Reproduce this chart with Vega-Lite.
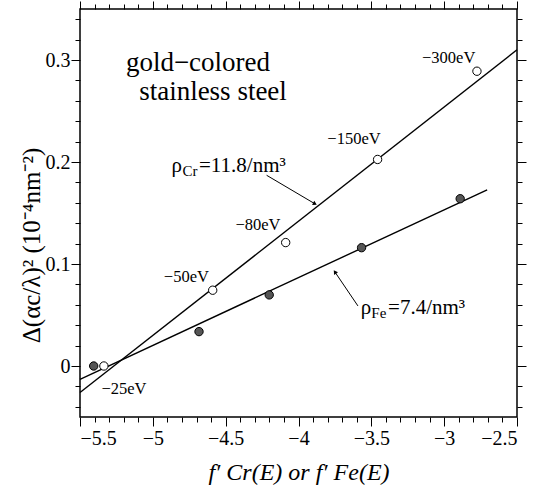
{
  "$schema": "https://vega.github.io/schema/vega-lite/v6.json",
  "width": 437,
  "height": 408,
  "autosize": "none",
  "padding": {"left": 80, "top": 9, "right": 19, "bottom": 73},
  "background": "white",
  "config": {
    "view": {"stroke": "black", "strokeWidth": 1.5},
    "axis": {
      "grid": false, "domain": false, "ticks": true,
      "tickColor": "black", "tickWidth": 1, "tickOpacity": 1,
      "labelFont": "Liberation Serif", "labelFontSize": 20, "labelColor": "black",
      "titleFont": "Liberation Serif", "titleFontSize": 24, "titleColor": "black", "titleFontWeight": "normal"
    },
    "text": {"font": "Liberation Serif", "color": "black"}
  },
  "datasets": {
    "lines": [
      {"series": "Cr", "x": -5.5, "y": -0.026},
      {"series": "Cr", "x": -2.5, "y": 0.310},
      {"series": "Fe", "x": -5.5, "y": -0.013},
      {"series": "Fe", "x": -2.705, "y": 0.1727}
    ],
    "points": [
      {"series": "Cr", "x": -5.336, "y": 0.0},
      {"series": "Cr", "x": -4.589, "y": 0.0743},
      {"series": "Cr", "x": -4.088, "y": 0.121},
      {"series": "Cr", "x": -3.457, "y": 0.2025},
      {"series": "Cr", "x": -2.775, "y": 0.289},
      {"series": "Fe", "x": -5.406, "y": 0.0},
      {"series": "Fe", "x": -4.683, "y": 0.0337},
      {"series": "Fe", "x": -4.201, "y": 0.0697},
      {"series": "Fe", "x": -3.567, "y": 0.116},
      {"series": "Fe", "x": -2.89, "y": 0.164}
    ],
    "energy": [
      {"label": "−25eV", "x": -5.198, "y": -0.0229},
      {"label": "−50eV", "x": -4.770, "y": 0.0875},
      {"label": "−80eV", "x": -4.278, "y": 0.138},
      {"label": "−150eV", "x": -3.619, "y": 0.2225},
      {"label": "−300eV", "x": -2.969, "y": 0.302}
    ],
    "notes": [
      {"kind": "head", "text": "gold−colored", "x": -4.690, "y": 0.289},
      {"kind": "head", "text": "stainless  steel", "x": -4.587, "y": 0.2607},
      {"kind": "main", "text": "ρ", "x": -4.871, "y": 0.1898},
      {"kind": "sub", "text": "Cr", "x": -4.797, "y": 0.186},
      {"kind": "main", "text": "=11.8/nm³", "x": -4.683, "y": 0.1898},
      {"kind": "main", "text": "ρ", "x": -3.573, "y": 0.0507},
      {"kind": "sub", "text": "Fe", "x": -3.500, "y": 0.0475},
      {"kind": "main", "text": "=7.4/nm³", "x": -3.385, "y": 0.0507}
    ],
    "arrows": [
      {"name": "Cr", "x": -4.219, "y": 0.187, "x2": -3.887, "y2": 0.159},
      {"name": "Fe", "x": -3.592, "y": 0.0589, "x2": -3.750, "y2": 0.0922}
    ]
  },
  "resolve": {"axis": {"x": "independent", "y": "independent"}},
  "layer": [
    {
      "data": {"name": "lines"},
      "mark": {"type": "line", "color": "black", "strokeWidth": 1.4},
      "encoding": {
        "x": {"field": "x", "type": "quantitative", "scale": {"domain": [-5.5, -2.5], "nice": false, "zero": false},
          "axis": {"orient": "bottom", "values": [-5.5, -5, -4.5, -4, -3.5, -3, -2.5], "format": "~g", "ticks": true, "tickSize": 9, "domain": false, "labelPadding": 2,
            "title": "f′ Cr(E)  or  f′ Fe(E)", "titleFontStyle": "italic", "titleFontSize": 24, "titleX": 218.5, "titleY": 55, "titleBaseline": "middle", "titleAlign": "center"}},
        "y": {"field": "y", "type": "quantitative", "scale": {"domain": [-0.05, 0.35], "nice": false, "zero": false},
          "axis": {"orient": "left", "values": [0, 0.1, 0.2, 0.3], "format": "~g", "ticks": true, "tickSize": 9, "domain": false, "labelPadding": 1,
            "title": "Δ(αc/λ)²  (10⁻⁴nm⁻²)", "titleFontSize": 25, "titleX": -49, "titleY": 236, "titleAngle": -90, "titleBaseline": "middle", "titleAlign": "center"}},
        "detail": {"field": "series"}
      }
    },
    {
      "data": {"name": "points"},
      "transform": [{"filter": "datum.series === 'Cr'"}],
      "mark": {"type": "point", "shape": "circle", "filled": true, "fill": "white", "stroke": "black", "strokeWidth": 1, "size": 70, "opacity": 1},
      "encoding": {
        "x": {"field": "x", "type": "quantitative", "scale": {"domain": [-5.5, -2.5], "nice": false, "zero": false},
          "axis": {"orient": "top", "values": [-5.5, -5, -4.5, -4, -3.5, -3, -2.5], "labels": false, "domain": false, "ticks": true, "tickSize": 8, "title": null}},
        "y": {"field": "y", "type": "quantitative", "scale": {"domain": [-0.05, 0.35], "nice": false, "zero": false},
          "axis": {"orient": "right", "values": [0, 0.1, 0.2, 0.3], "labels": false, "domain": false, "ticks": true, "tickSize": 9, "title": null}}
      }
    },
    {
      "data": {"name": "points"},
      "transform": [{"filter": "datum.series === 'Fe'"}],
      "mark": {"type": "point", "shape": "circle", "filled": true, "fill": "#555555", "stroke": "black", "strokeWidth": 1, "size": 70, "opacity": 1},
      "encoding": {
        "x": {"field": "x", "type": "quantitative", "scale": {"domain": [-5.5, -2.5], "nice": false, "zero": false},
          "axis": {"orient": "top", "values": [-5.4, -5.3, -5.2, -5.1, -4.9, -4.8, -4.7, -4.6, -4.4, -4.3, -4.2, -4.1, -3.9, -3.8, -3.7, -3.6, -3.4, -3.3, -3.2, -3.1, -2.9, -2.8, -2.7, -2.6], "labels": false, "domain": false, "ticks": true, "tickSize": 5, "title": null}},
        "y": {"field": "y", "type": "quantitative", "scale": {"domain": [-0.05, 0.35], "nice": false, "zero": false},
          "axis": {"orient": "right", "values": [-0.04, -0.02, 0.02, 0.04, 0.06, 0.08, 0.12, 0.14, 0.16, 0.18, 0.22, 0.24, 0.26, 0.28, 0.32, 0.34], "labels": false, "domain": false, "ticks": true, "tickSize": 5, "title": null}}
      }
    },
    {
      "data": {"name": "energy"},
      "mark": {"type": "text", "fontSize": 16.5, "align": "center", "baseline": "middle"},
      "encoding": {
        "x": {"field": "x", "type": "quantitative", "scale": {"domain": [-5.5, -2.5], "nice": false, "zero": false},
          "axis": {"orient": "bottom", "values": [-5.4, -5.3, -5.2, -5.1, -4.9, -4.8, -4.7, -4.6, -4.4, -4.3, -4.2, -4.1, -3.9, -3.8, -3.7, -3.6, -3.4, -3.3, -3.2, -3.1, -2.9, -2.8, -2.7, -2.6], "labels": false, "domain": false, "ticks": true, "tickSize": 5, "title": null}},
        "y": {"field": "y", "type": "quantitative", "scale": {"domain": [-0.05, 0.35], "nice": false, "zero": false},
          "axis": {"orient": "left", "values": [-0.04, -0.02, 0.02, 0.04, 0.06, 0.08, 0.12, 0.14, 0.16, 0.18, 0.22, 0.24, 0.26, 0.28, 0.32, 0.34], "labels": false, "domain": false, "ticks": true, "tickSize": 5, "title": null}},
        "text": {"field": "label"}
      }
    },
    {
      "data": {"name": "notes"},
      "transform": [{"filter": "datum.kind === 'head'"}],
      "mark": {"type": "text", "fontSize": 27, "align": "center", "baseline": "alphabetic"},
      "encoding": {
        "x": {"field": "x", "type": "quantitative", "axis": null},
        "y": {"field": "y", "type": "quantitative", "axis": null},
        "text": {"field": "text"}
      }
    },
    {
      "data": {"name": "notes"},
      "transform": [{"filter": "datum.kind === 'main'"}],
      "mark": {"type": "text", "fontSize": 21, "align": "left", "baseline": "alphabetic"},
      "encoding": {
        "x": {"field": "x", "type": "quantitative", "axis": null},
        "y": {"field": "y", "type": "quantitative", "axis": null},
        "text": {"field": "text"}
      }
    },
    {
      "data": {"name": "notes"},
      "transform": [{"filter": "datum.kind === 'sub'"}],
      "mark": {"type": "text", "fontSize": 15, "align": "left", "baseline": "alphabetic"},
      "encoding": {
        "x": {"field": "x", "type": "quantitative", "axis": null},
        "y": {"field": "y", "type": "quantitative", "axis": null},
        "text": {"field": "text"}
      }
    },
    {
      "data": {"name": "arrows"},
      "mark": {"type": "rule", "color": "black", "strokeWidth": 1},
      "encoding": {
        "x": {"field": "x", "type": "quantitative", "axis": null},
        "y": {"field": "y", "type": "quantitative", "axis": null},
        "x2": {"field": "x2"},
        "y2": {"field": "y2"}
      }
    },
    {
      "data": {"name": "arrows"},
      "transform": [{"filter": "datum.name === 'Cr'"}],
      "mark": {"type": "point", "shape": "triangle-up", "filled": true, "color": "black", "size": 22, "angle": 119, "opacity": 1},
      "encoding": {
        "x": {"field": "x2", "type": "quantitative", "axis": null},
        "y": {"field": "y2", "type": "quantitative", "axis": null}
      }
    },
    {
      "data": {"name": "arrows"},
      "transform": [{"filter": "datum.name === 'Fe'"}],
      "mark": {"type": "point", "shape": "triangle-up", "filled": true, "color": "black", "size": 22, "angle": 326, "opacity": 1},
      "encoding": {
        "x": {"field": "x2", "type": "quantitative", "axis": null},
        "y": {"field": "y2", "type": "quantitative", "axis": null}
      }
    }
  ]
}
